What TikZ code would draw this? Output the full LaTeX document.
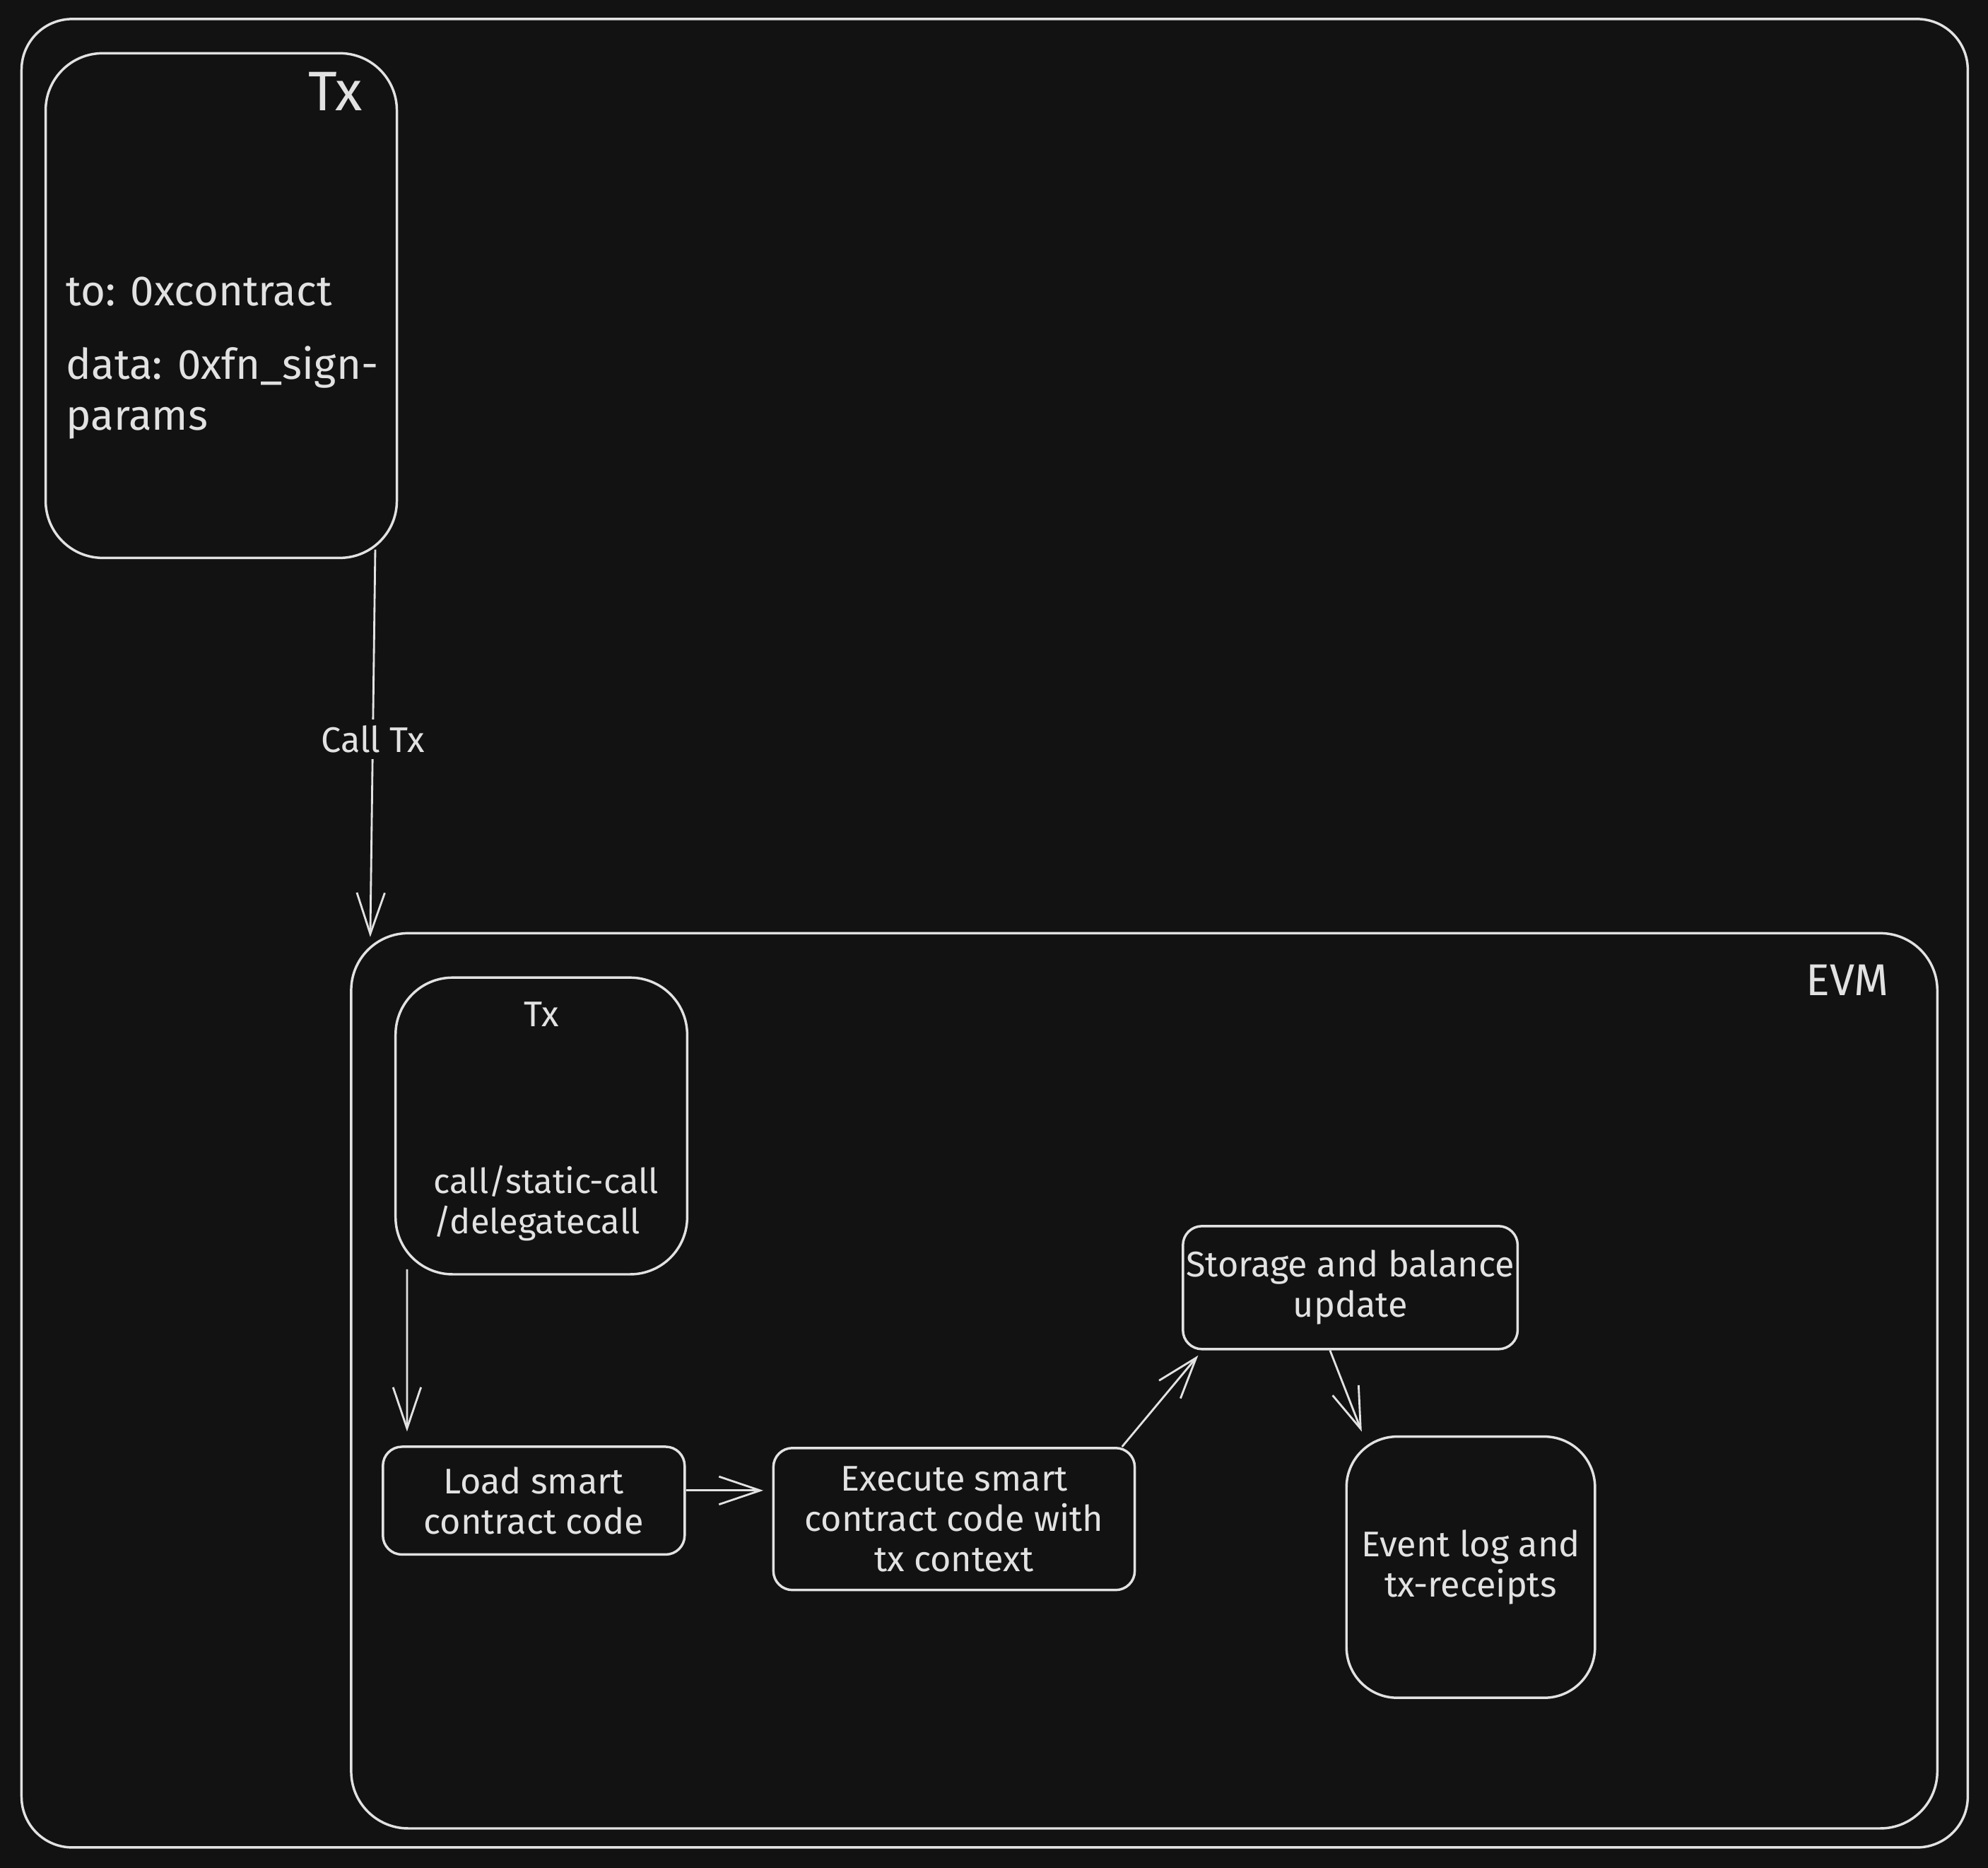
\documentclass[tikz,border=0pt]{standalone}
\usepackage{fontspec}
\setmainfont{Fira Sans}
\usepackage{xcolor}
\usetikzlibrary{arrows.meta,positioning}
\definecolor{bg}{HTML}{121212}
\definecolor{ink}{HTML}{E2E2E2}

\begin{document}
\begin{tikzpicture}[
    x=0.2mm, y=-0.2mm,
    >={Straight Barb[length=6.5mm,width=4.4mm,line width=0.9pt]},
    every node/.style={text=ink, font=\fontsize{16}{18}\selectfont},
    frame/.style={draw=ink, line width=1.1pt, rounded corners=9mm, inner sep=0pt},
    card/.style={draw=ink, line width=1.1pt, rounded corners=3mm, align=center, inner sep=0pt},
    lbl/.style={fill=bg, inner sep=1mm},
    link/.style={->, draw=ink, line width=0.9pt}
]
\fill[bg] (0,0) rectangle (1568,1473);
\useasboundingbox (0,0) rectangle (1568,1473);

% --- outer frame and the transaction ---
\node[frame, rounded corners=8mm, minimum width=307mm, minimum height=288.4mm] (outer) at (784.5,736) {};
\node[frame, minimum width=55.4mm, minimum height=79.6mm] (txbox) at (174.5,241) {};
\node[anchor=east, font=\fontsize{25}{30}\selectfont] (txhead) at (292,72) {Tx};
\node[anchor=base west, font=\fontsize{19}{22.7}\selectfont] (txto) at (46,241) {to: 0xcontract};
\node[anchor=base west, align=left, font=\fontsize{19}{22.7}\selectfont] (txdata) at (46,339) {data: 0xfn\_sign-\\params};

% --- EVM region ---
\node[frame, minimum width=250.2mm, minimum height=141.2mm] (evm) at (902.5,1089) {};
\node[anchor=east, font=\fontsize{20}{24}\selectfont] (evmlbl) at (1496,773) {EVM};

\node[frame, minimum width=46mm, minimum height=46.8mm] (innertx) at (427,888) {};
\node (innerhead) at (427,800) {Tx};
\node[anchor=west, align=left, font=\fontsize{15.5}{18}\selectfont] (calls) at (336,949) {call/static-call\\/delegatecall};

\node[card, minimum width=47.6mm, minimum height=17mm] (load) at (421,1183.5) {Load smart\\contract code};
\node[card, minimum width=57mm, minimum height=22.4mm] (exec) at (752.5,1198) {Execute smart\\contract code with\\tx context};
\node[card, minimum width=52.8mm, minimum height=19.4mm] (storage) at (1065,1015.5) {Storage and balance\\update};
\node[frame, rounded corners=8mm, align=center, minimum width=39.2mm, minimum height=41.2mm] (event) at (1160,1236) {Event log and\\tx-receipts};

% --- connectors ---
\draw[link] ([xshift=-3.6mm,yshift=1.5mm]txbox.south east) -- node[lbl, pos=0.49] (calltx) {Call Tx} ([xshift=3.2mm,yshift=-0.8mm]evm.north west);
\draw[link] ([xshift=2mm,yshift=1mm]innertx.south west) -- ([xshift=4mm,yshift=2.2mm]load.north west);
\draw[link, shorten >=1.4mm] ([yshift=1.6mm]load.east) -- ([yshift=1.6mm]load.east -| exec.west);
\draw[link] ([xshift=-2.2mm]exec.north east) -- ([xshift=2.6mm,yshift=-0.8mm]storage.south west);
\draw[link] ([xshift=-3.2mm]storage.south) -- ([xshift=2.6mm,yshift=0.6mm]event.north west);
\end{tikzpicture}
\end{document}
